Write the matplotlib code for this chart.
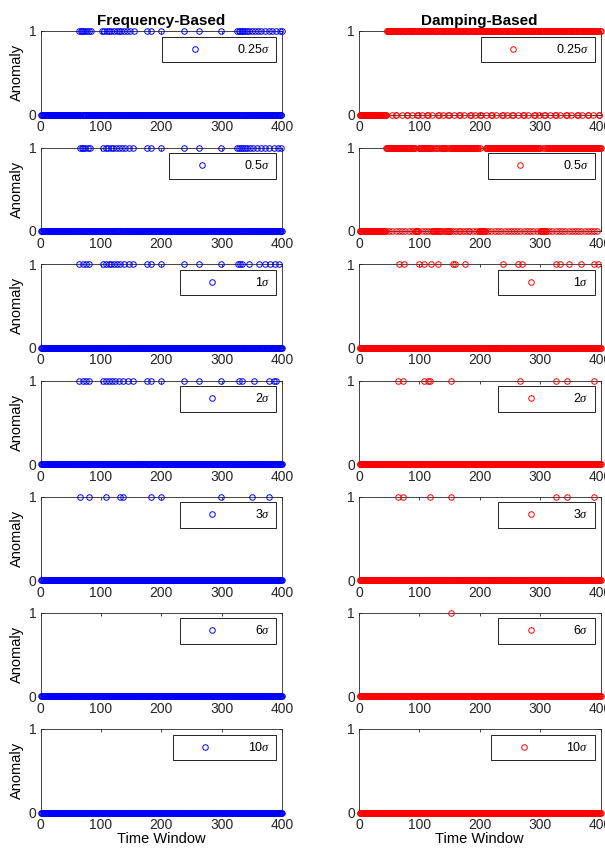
import numpy as np
import matplotlib
matplotlib.use('Agg')
import matplotlib.pyplot as plt

plt.rcParams['font.family'] = ['Liberation Sans', 'DejaVu Sans']
plt.rcParams['mathtext.fontset'] = 'custom'
plt.rcParams['mathtext.it'] = 'Liberation Serif:italic'

# time windows 1..400
n_windows = 400
levels = ['0.25', '0.5', '1', '2', '3', '6', '10']

# anomalous windows (ints = single window, tuples = run)
freq_025 = [64, 67, 69, 71, 74, 77, 80, 83, 102, 106, 110, 114, 117, 121, 126,
            130, 134, 138, 143, 148, 155, 176, 183, 200, 238, 263, 299, 325, 328,
            330, 333, 336, 339, 342, 346, 350, 355, 360, 366, 372, 378, 384, 390,
            396, 400]
freq_05 = [65, 68, 71, 74, 78, 82, 103, 108, 112, 116, 120, 125, 130, 135, 140,
           146, 154, 176, 183, 200, 238, 263, 299, 326, 329, 332, 335, 338, 342,
           347, 352, 358, 365, 372, 379, 386, 393, 399]
freq_1 = [64, 70, 76, 81, 103, 108, 113, 117, 122, 127, 132, 139, 146, 154, 176,
          183, 200, 238, 263, 299, 327, 330, 333, 345, 362, 372, 380, 388, 395]
freq_2 = [64, 70, 76, 81, 103, 108, 113, 118, 124, 130, 136, 145, 154, 176, 183,
          200, 238, 263, 299, 328, 333, 353, 379, 386, 390]
freq_3 = [65, 80, 109, 131, 137, 183, 200, 299, 351, 379]
freq_6 = []
freq_10 = []

damp_025 = [(46, 53), (55, 60), (63, 70), (72, 78), (81, 86), (88, 95), (98, 104),
            (106, 112), (115, 120), (122, 130), (133, 138), (140, 147), (150, 156),
            (158, 165), (168, 173), (175, 183), (186, 191), (193, 200), (203, 209),
            (211, 218), (221, 226), (228, 236), (239, 244), (246, 253), (256, 262),
            (264, 271), (274, 279), (281, 289), (292, 297), (299, 306), (309, 315),
            (317, 324), (327, 332), (334, 342), (345, 350), (352, 360), (363, 368),
            (370, 378), (381, 386), (388, 396), (399, 400)]
damp_05 = [(45, 49), (51, 54), (56, 60), (62, 65), (67, 71), (73, 76), (78, 82),
           (84, 87), (89, 92), (99, 103), (105, 108), (110, 114), (116, 119), 121,
           124, 127, 130, 133, (136, 139), (141, 143), 146, 149, (152, 155),
           (157, 160), (162, 165), (168, 171), (173, 176), (178, 181), (184, 187),
           (189, 192), (194, 197), 200, (210, 213), (215, 218), (220, 224),
           (226, 229), (231, 234), (236, 240), (242, 245), (247, 250), (252, 256),
           (258, 261), (263, 266), (268, 272), (274, 277), (279, 282), (284, 288),
           (290, 293), (295, 298), 300, 304, 308, (311, 314), (316, 319),
           (321, 325), (327, 330), (332, 335), (337, 341), (343, 346), (348, 351),
           (353, 357), (359, 362), (364, 367), (369, 373), (375, 378), (380, 383),
           (385, 389), (391, 394), (396, 400)]
damp_1 = [67, 75, 100, 108, 120, 131, 155, 159, 175, 238, 263, 270, 327, 333,
          348, 368, 390, 396]
damp_2 = [65, 73, 107, 115, 118, 153, 266, 326, 345, 390]
damp_3 = [65, 73, 117, 153, 326, 345, 390]
damp_6 = [153]
damp_10 = []

freq_sets = [freq_025, freq_05, freq_1, freq_2, freq_3, freq_6, freq_10]
damp_sets = [damp_025, damp_05, damp_1, damp_2, damp_3, damp_6, damp_10]


def expand(items):
    out = []
    for it in items:
        if isinstance(it, tuple):
            out.extend(range(it[0], it[1] + 1))
        else:
            out.append(it)
    return out


t = np.arange(1, n_windows + 1)

fig = plt.figure(figsize=(6.05, 8.5), dpi=100)
W, H = 605.0, 850.0
col_left = [40.5, 359.0]
ax_w = 241.5
row_top = [31, 147.5, 264, 380.5, 496.5, 612.5, 729]
ax_h = 83.5

for r in range(7):
    for c, (sets, color) in enumerate([(freq_sets, 'blue'), (damp_sets, 'red')]):
        ax = fig.add_axes([col_left[c] / W, 1 - (row_top[r] + ax_h) / H,
                           ax_w / W, ax_h / H])
        anom = np.isin(t, expand(sets[r])).astype(int)
        ax.plot(t, anom, 'o', color=color, mfc='none', ms=4.0, mew=0.7,
                clip_on=False, label=levels[r] + r'$\sigma$', zorder=3)
        ax.set_xlim(0, 400)
        ax.set_ylim(0, 1)
        ax.set_xticks([0, 100, 200, 300, 400])
        ax.set_yticks([0, 1])
        ax.tick_params(direction='in', length=2.5, width=0.6, labelsize=10,
                       top=True, right=True, pad=4, colors='#262626')
        ax.tick_params(axis='y', pad=3)
        for s in ax.spines.values():
            s.set_linewidth(0.6)
            s.set_color('#262626')
        if c == 0:
            ax.set_ylabel('Anomaly', fontsize=10.5, labelpad=3)
        if r == 6:
            ax.set_xlabel('Time Window', fontsize=10.5, labelpad=0)
        if r == 0:
            ax.set_title(['Frequency-Based', 'Damping-Based'][c],
                         fontsize=11, fontweight='bold', pad=4)
        leg = ax.legend(loc='upper right', fontsize=9, fancybox=False,
                        edgecolor='black', framealpha=1, borderaxespad=0.45,
                        handlelength=4.2, handletextpad=1.3, borderpad=0.5,
                        numpoints=1)
        leg.get_frame().set_linewidth(0.6)

plt.savefig('out.png', dpi=100)
